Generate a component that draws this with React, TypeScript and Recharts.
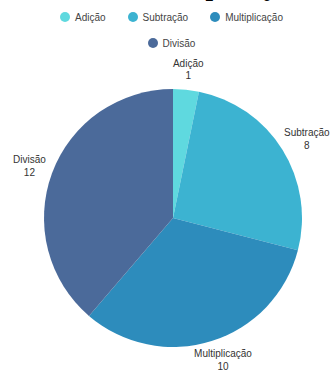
import { PieChart, Pie, Cell, Legend } from "recharts"

const categories = ["Adição", "Subtração", "Multiplicação", "Divisão"]
const counts = [1, 8, 10, 12]
const colors = ["#5fd9df", "#3cb3d1", "#2d8cbc", "#4b6a9a"]

const data = categories.map((name, i) => ({ name, value: counts[i] }))

const RADIAN = Math.PI / 180
const sans = '"Liberation Sans", Arial, sans-serif'

// label sits just outside the slice, pushed out by half its own box
function renderLabel(props: any) {
  const { cx, cy, midAngle, outerRadius, value } = props
  const name: string = props.name ?? props.payload?.name
  const cos = Math.cos(-midAngle * RADIAN)
  const sin = Math.sin(-midAngle * RADIAN)
  const halfW = name.length * 2.3
  const halfH = 12
  const x = cx + (outerRadius + 8) * cos + halfW * cos
  const y = cy + (outerRadius + 8) * sin + halfH * sin
  return (
    <text textAnchor="middle" fill="#333" fontSize={10} fontFamily={sans}>
      <tspan x={x} y={y - 2.8}>{name}</tspan>
      <tspan x={x} y={y + 9.7}>{value}</tspan>
    </text>
  )
}

function LegendContent() {
  return (
    <div
      style={{
        display: "flex",
        flexWrap: "wrap",
        justifyContent: "center",
        columnGap: 22,
        rowGap: 12,
        width: 250,
        fontFamily: sans,
        fontSize: 10,
        color: "#444",
      }}
    >
      {categories.map((c, i) => (
        <div key={c} style={{ display: "flex", alignItems: "center", height: 14 }}>
          <span
            style={{
              display: "inline-block",
              width: 10,
              height: 10,
              borderRadius: "50%",
              background: colors[i],
              marginRight: 5,
            }}
          />
          <span>{c}</span>
        </div>
      ))}
    </div>
  )
}

export default function App() {
  return (
    <div style={{ position: "fixed", top: 0, left: 0, width: 331, height: 374, background: "#fff", overflow: "hidden" }}>
      <div
        style={{
          position: "absolute",
          top: -27,
          left: 141,
          fontFamily: '"Liberation Serif", "Times New Roman", serif',
          fontWeight: "bold",
          fontSize: 27,
          lineHeight: "27px",
          whiteSpace: "nowrap",
          color: "#000",
        }}
      >
        Multiplicação
      </div>
      <PieChart width={331} height={374} margin={{ top: 0, right: 0, bottom: 0, left: 0 }}>
        <Legend content={<LegendContent />} wrapperStyle={{ top: 10, left: 46.5, width: 250 }} />
        <Pie
          data={data}
          dataKey="value"
          nameKey="name"
          cx={173}
          cy={218}
          outerRadius={129}
          startAngle={90}
          endAngle={-270}
          stroke="none"
          labelLine={false}
          label={renderLabel}
          isAnimationActive={false}
        >
          {data.map((d, i) => (
            <Cell key={d.name} fill={colors[i]} />
          ))}
        </Pie>
      </PieChart>
    </div>
  )
}
